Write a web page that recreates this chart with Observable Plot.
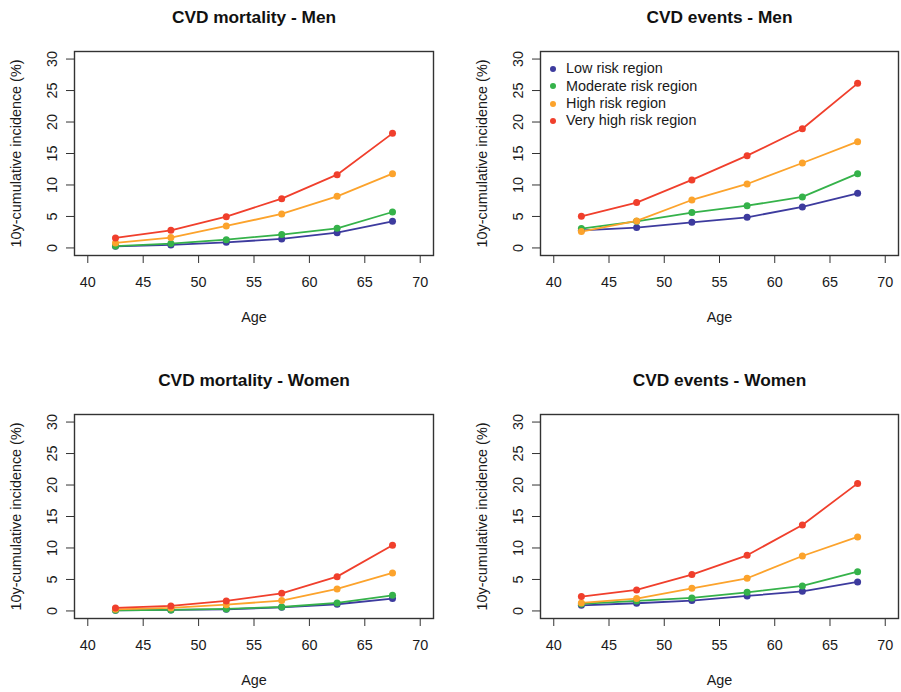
<!DOCTYPE html>
<html>
<head>
<meta charset="utf-8">
<script src="https://cdn.jsdelivr.net/npm/d3@7"></script>
<script src="https://cdn.jsdelivr.net/npm/@observablehq/plot@0.6"></script>
<style>
  html, body { margin: 0; padding: 0; background: #fff; }
  #root { position: relative; width: 901px; height: 692px; font-family: "Liberation Sans", Arial, sans-serif; }
  .cell { position: absolute; }
  .legend { position: absolute; font-size: 14.4px; color: #1a1a1a; line-height: 17.3px; }
  .legend .row { display: flex; align-items: center; white-space: nowrap; }
  .legend .sw { width: 6px; height: 6px; border-radius: 50%; margin-right: 10px; margin-left: -3px; }
</style>
</head>
<body>
<div id="root"></div>
<script>
// ---- data ----
const ages = [42.5, 47.5, 52.5, 57.5, 62.5, 67.5];
const regions = ["Low risk region", "Moderate risk region", "High risk region", "Very high risk region"];
const colors = ["#3d3b9e", "#35b24a", "#fca32c", "#f03f2c"];
const xTicks = [40, 45, 50, 55, 60, 65, 70];
const yTicks = [0, 5, 10, 15, 20, 25, 30];
const titles = ["CVD mortality - Men", "CVD events - Men", "CVD mortality - Women", "CVD events - Women"];
const xLabel = "Age";
const yLabel = "10y-cumulative incidence (%)";

const mortMenLow      = [0.26, 0.48, 0.90, 1.43, 2.43, 4.23];
const mortMenModerate = [0.30, 0.69, 1.32, 2.12, 3.12, 5.71];
const mortMenHigh     = [0.79, 1.64, 3.49, 5.40, 8.20, 11.8];
const mortMenVeryHigh = [1.59, 2.80, 4.97, 7.83, 11.64, 18.2];

const evMenLow      = [2.80, 3.23, 4.07, 4.87, 6.51, 8.68];
const evMenModerate = [3.07, 4.23, 5.61, 6.72, 8.10, 11.8];
const evMenHigh     = [2.60, 4.29, 7.62, 10.16, 13.49, 16.88];
const evMenVeryHigh = [5.03, 7.20, 10.8, 14.66, 18.94, 26.14];

const mortWomenLow      = [0.10, 0.16, 0.26, 0.58, 1.06, 1.96];
const mortWomenModerate = [0.10, 0.16, 0.32, 0.63, 1.27, 2.49];
const mortWomenHigh     = [0.26, 0.48, 1.00, 1.64, 3.49, 6.03];
const mortWomenVeryHigh = [0.48, 0.79, 1.59, 2.80, 5.45, 10.42];

const evWomenLow      = [0.90, 1.22, 1.64, 2.38, 3.12, 4.60];
const evWomenModerate = [1.11, 1.59, 2.06, 2.96, 3.97, 6.24];
const evWomenHigh     = [1.27, 1.96, 3.60, 5.19, 8.73, 11.75];
const evWomenVeryHigh = [2.28, 3.33, 5.77, 8.84, 13.65, 20.26];

const panelSeries = [
  [mortMenLow, mortMenModerate, mortMenHigh, mortMenVeryHigh],
  [evMenLow, evMenModerate, evMenHigh, evMenVeryHigh],
  [mortWomenLow, mortWomenModerate, mortWomenHigh, mortWomenVeryHigh],
  [evWomenLow, evWomenModerate, evWomenHigh, evWomenVeryHigh]
];

// ---- layout ----
const cells = [
  {left: 0,   top: 0,   width: 450, height: 346, ml: 74, mr: 17, mt: 51, mb: 91},
  {left: 450, top: 0,   width: 451, height: 346, ml: 90, mr: 3,  mt: 51, mb: 91},
  {left: 0,   top: 346, width: 450, height: 346, ml: 74, mr: 17, mt: 68, mb: 74},
  {left: 450, top: 346, width: 451, height: 346, ml: 90, mr: 3,  mt: 68, mb: 74}
];

const root = document.getElementById("root");
const font = "'Liberation Sans', Arial, sans-serif";

cells.forEach((c, p) => {
  const rows = [];
  panelSeries[p].forEach((vals, i) => {
    vals.forEach((v, j) => rows.push({region: regions[i], age: ages[j], value: v}));
  });
  const chart = Plot.plot({
    width: c.width, height: c.height,
    marginLeft: c.ml, marginRight: c.mr, marginTop: c.mt, marginBottom: c.mb,
    x: {domain: [38.8, 71.2]},
    y: {domain: [-1.2, 31.2]},
    color: {domain: regions, range: colors},
    style: {fontFamily: font, fontSize: "14.4px", color: "#1a1a1a", background: "#fff", overflow: "visible"},
    marks: [
      Plot.axisX({ticks: xTicks, tickSize: 8, tickPadding: 13, tickFormat: d => String(d), label: null, stroke: "#333", fontSize: 14.4}),
      Plot.axisY({ticks: yTicks, tickSize: 8, tickPadding: 10, tickRotate: -90, tickFormat: d => String(d), label: null, stroke: "#333", fontSize: 14.4}),
      Plot.line(rows, {x: "age", y: "value", z: "region", stroke: "region", strokeWidth: 1.8}),
      Plot.dot(rows, {x: "age", y: "value", fill: "region", r: 3.5}),
      Plot.frame({stroke: "#333", strokeWidth: 1.4}),
      Plot.text([titles[p]], {text: d => d, frameAnchor: "top", lineAnchor: "middle", dy: -34, fontWeight: "bold", fontSize: 17.3, fill: "#111"}),
      Plot.text([xLabel], {text: d => d, frameAnchor: "bottom", lineAnchor: "middle", dy: 62, fontSize: 14.4}),
      Plot.text([yLabel], {text: d => d, frameAnchor: "left", textAnchor: "middle", lineAnchor: "middle", dx: -58, rotate: -90, fontSize: 14.4})
    ]
  });
  const div = document.createElement("div");
  div.className = "cell";
  div.style.left = c.left + "px";
  div.style.top = c.top + "px";
  div.appendChild(chart);
  if (p === 1) {
    const lg = document.createElement("div");
    lg.className = "legend";
    lg.style.left = (553 - 450) + "px";
    lg.style.top = (69 - 8.65) + "px";
    regions.forEach((r, i) => {
      const row = document.createElement("div");
      row.className = "row";
      const sw = document.createElement("span");
      sw.className = "sw";
      sw.style.background = colors[i];
      const t = document.createElement("span");
      t.textContent = r;
      row.appendChild(sw);
      row.appendChild(t);
      lg.appendChild(row);
    });
    div.appendChild(lg);
  }
  root.appendChild(div);
});
</script>
</body>
</html>
